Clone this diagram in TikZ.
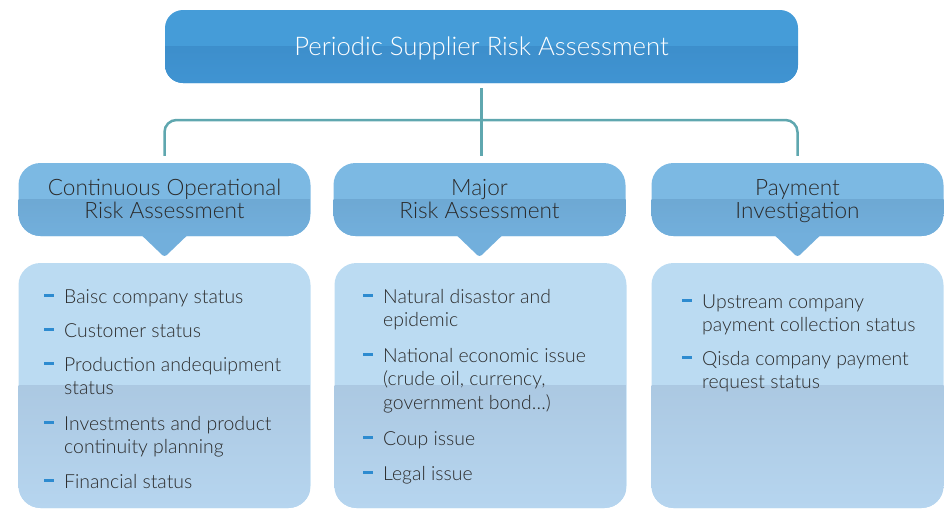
\documentclass[tikz,border=0pt]{standalone}
\usepackage{fontspec}
\IfFontExistsTF{Lato Light}{\setmainfont{Lato Light}}{\setmainfont{Lato}}
\definecolor{titleTop}{HTML}{459CD8}
\definecolor{titleBot}{HTML}{3A89C5}
\definecolor{titleEnd}{HTML}{4094D2}
\definecolor{headTop}{HTML}{7CB9E3}
\definecolor{headBot}{HTML}{6AA2CB}
\definecolor{headEnd}{HTML}{72AFDC}
\definecolor{contTop}{HTML}{BBDBF2}
\definecolor{contBot}{HTML}{A1BCD5}
\definecolor{contEnd}{HTML}{B6D5EF}
\definecolor{dashBlue}{HTML}{2D8BD0}
\definecolor{txt}{HTML}{2B2B2B}
\definecolor{conn}{HTML}{5FA7AF}
\tikzset{
  twotone/.style n args={3}{fill=#1, path picture={
      \shade[sharp corners, top color=#2, bottom color=#3]
        (path picture bounding box.west) rectangle (path picture bounding box.south east);}},
  titlebox/.style={rounded corners=18pt, minimum width=633pt, minimum height=73pt,
      inner sep=0pt, twotone={titleTop}{titleBot}{titleEnd}},
  headbox/.style={rounded corners=22pt, minimum width=292pt, minimum height=73pt,
      inner sep=0pt, twotone={headTop}{headBot}{headEnd}},
  contbox/.style={rounded corners=22pt, minimum width=292pt, minimum height=245pt,
      inner sep=0pt, twotone={contTop}{contBot}{contEnd}},
  pointer/.style={fill=headEnd, rounded corners=3pt},
  connector/.style={draw=conn, line width=2.5pt},
  titletext/.style={inner sep=0pt, anchor=base, text=white, font=\fontsize{25.7}{28}\selectfont},
  headtext/.style={inner sep=0pt, anchor=base, text=txt, font=\fontsize{22.6}{23.5}\selectfont},
  itemtext/.style={inner sep=0pt, anchor=base west, text=txt, font=\fontsize{19.4}{23.8}\selectfont},
  dashmark/.style={draw=dashBlue, line width=3pt}
}
\newcommand{\dashfor}[1]{\draw[dashmark] ([xshift=-20pt,yshift=7.5pt]#1.base west) -- ([xshift=-10pt,yshift=7.5pt]#1.base west);}
\newcommand{\ctrlines}[1]{\begin{tabular}[t]{@{}c@{}}#1\end{tabular}}
\newcommand{\leftlines}[1]{\begin{tabular}[t]{@{}l@{}}#1\end{tabular}}
\begin{document}
\begin{tikzpicture}[x=1pt,y=-1pt]
\useasboundingbox (0,0) rectangle (946,509);
% title
\node[titlebox] (title) at (481.5,46.5) {};
\node[titletext] (titlelbl) at (481.5,55) {Periodic Supplier Risk Assessment};
% headers
\node[headbox] (h1) at (164.5,199.5) {};
\node[headbox] (h2) at (479.5,199.5) {};
\node[headbox] (h3) at (797.5,199.5) {};
\foreach \h in {h1,h2,h3}{
  \fill[pointer] ([xshift=-25pt,yshift=3pt]\h.south) -- ([yshift=-21pt]\h.south) -- ([xshift=25pt,yshift=3pt]\h.south) -- cycle;
}
\node[headtext] (h1lbl) at (164.5,195) {\ctrlines{Continuous Operational\\Risk Assessment}};
\node[headtext] (h2lbl) at (479.5,195) {\ctrlines{Major\\Risk Assessment}};
\node[headtext] (h3lbl) at (797.5,195) {\ctrlines{Payment\\Investigation}};
% connectors
\coordinate (bar) at (481.5,120);
\draw[connector, shorten <=5pt, shorten >=7pt] (title.south) -- (title.south |- h2.north);
\draw[connector, rounded corners=12pt, shorten <=7pt, shorten >=7pt] (h1.north) |- (bar) -| (h3.north);
% content boxes
\node[contbox] (c1) at (164.5,385.5) {};
\node[contbox] (c2) at (480.5,385.5) {};
\node[contbox] (c3) at (797.5,385.5) {};
% items left
\node[itemtext] (a1) at (64,303) {Baisc company status};
\node[itemtext] (a2) at (64,337) {Customer status};
\node[itemtext] (a3) at (64,371) {\leftlines{Production andequipment\\status}};
\node[itemtext] (a4) at (64,430) {\leftlines{Investments and product\\continuity planning}};
\node[itemtext] (a5) at (64,488) {Financial status};
% items middle
\node[itemtext] (b1) at (383,303) {\leftlines{Natural disastor and\\epidemic}};
\node[itemtext] (b2) at (383,362) {\leftlines{National economic issue\\(crude oil, currency,\\government bond\ldots)}};
\node[itemtext] (b3) at (383,445) {Coup issue};
\node[itemtext] (b4) at (383,480) {Legal issue};
% items right
\node[itemtext] (d1) at (702,308) {\leftlines{Upstream company\\payment collection status}};
\node[itemtext] (d2) at (702,365) {\leftlines{Qisda company payment\\request status}};
\foreach \n in {a1,a2,a3,a4,a5,b1,b2,b3,b4,d1,d2}{\dashfor{\n}}
\end{tikzpicture}
\end{document}
